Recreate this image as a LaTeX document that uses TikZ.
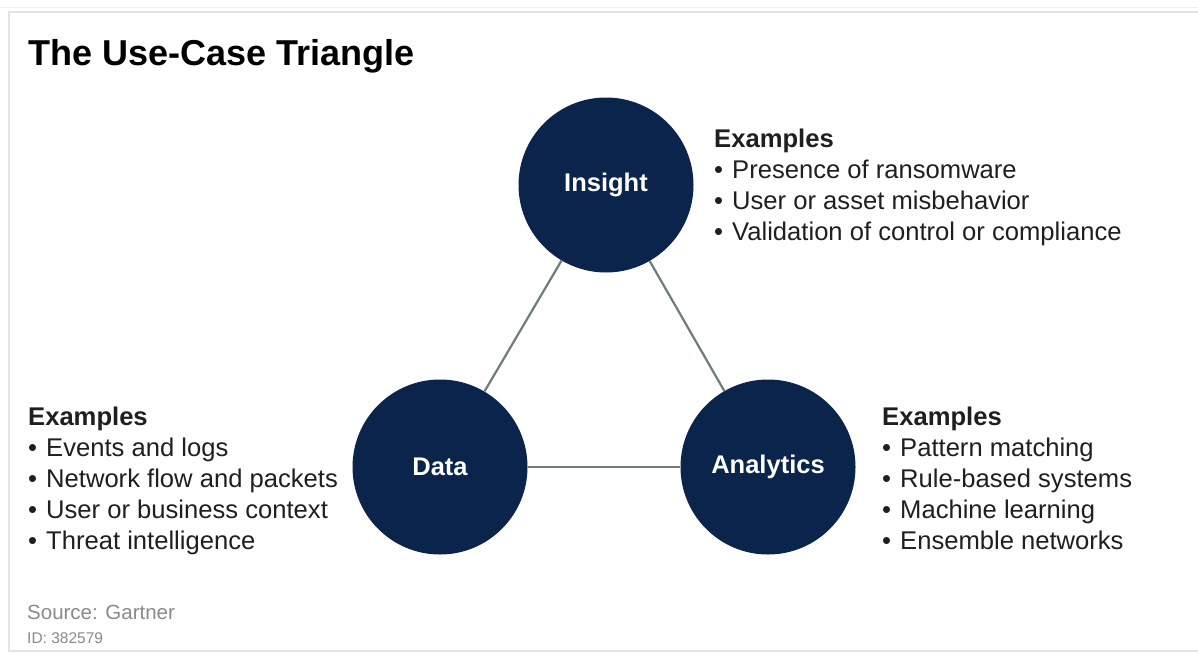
\documentclass[tikz,border=0pt]{standalone}
\usepackage{fontspec}
\setmainfont{Liberation Sans}
\definecolor{navy}{HTML}{0A244B}
\definecolor{linkgray}{HTML}{707C7C}
\definecolor{framegray}{HTML}{E4E4E4}
\definecolor{srcgray}{HTML}{8A8A8A}
\newcommand{\exblock}[1]{\begin{tabular}[t]{@{}l@{}}#1\end{tabular}}
\newcommand{\bul}{\makebox[18pt][l]{\textbullet}}
\tikzset{
  hub/.style={circle, fill=navy, minimum size=175pt, inner sep=0pt, text=white,
    font=\fontsize{25.5}{30}\selectfont\bfseries},
  link/.style={draw=linkgray, line width=2.2pt},
  exlist/.style={anchor=base west, inner sep=0pt, font=\fontsize{25.6}{31}\selectfont, text=black!88},
}
\begin{document}
\begin{tikzpicture}[x=1pt,y=-1pt]
\useasboundingbox (0,0) rectangle (1198,653);
\fill[white] (0,0) rectangle (1198,653);
\draw[framegray!50, line width=1pt] (0,7) -- (1198,7);
\draw[framegray, line width=2pt] (1210,12) -- (9,12) -- (9,651) -- (1210,651);

\node[anchor=base west, inner sep=0pt, font=\fontsize{36}{40}\selectfont\bfseries] (title) at (28,65) {The Use-Case Triangle};

\node[hub] (insight) at (606,185) {Insight};
\node[hub] (data) at (440,467) {Data};
\node[hub] (analytics) at (768,467) {Analytics};

\draw[link] (insight) -- (data);
\draw[link] (insight) -- (analytics);
\draw[link] (data) -- (analytics);

\node[exlist] (exinsight) at (714,147) {\exblock{\textbf{Examples}\\
\bul Presence of ransomware\\
\bul User or asset misbehavior\\
\bul Validation of control or compliance}};

\node[exlist] (exdata) at (28,425) {\exblock{\textbf{Examples}\\
\bul Events and logs\\
\bul Network flow and packets\\
\bul User or business context\\
\bul Threat intelligence}};

\node[exlist] (exanalytics) at (882,425) {\exblock{\textbf{Examples}\\
\bul Pattern matching\\
\bul Rule-based systems\\
\bul Machine learning\\
\bul Ensemble networks}};

\node[anchor=base west, inner sep=0pt, text=srcgray, font=\fontsize{20.5}{24}\selectfont] (source) at (27,619) {Source: Gartner};
\node[anchor=base west, inner sep=0pt, text=srcgray, font=\fontsize{15.5}{18}\selectfont] (id) at (27,643) {ID: 382579};
\end{tikzpicture}
\end{document}
